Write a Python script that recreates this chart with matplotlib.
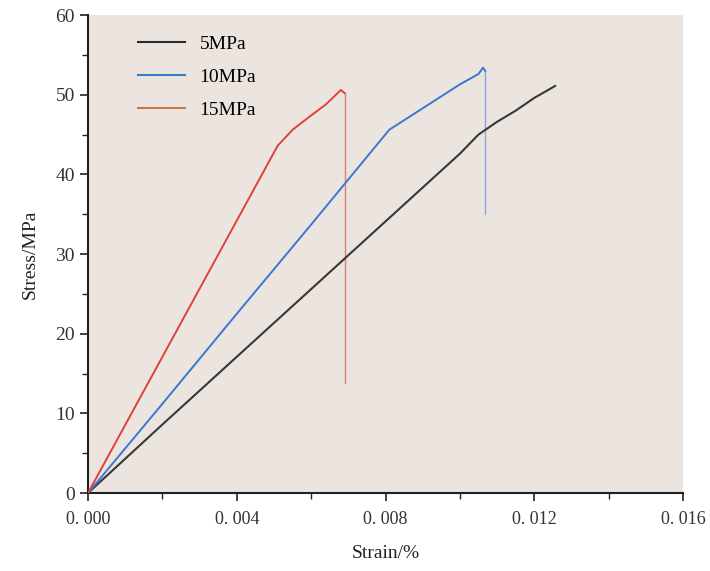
import matplotlib.pyplot as plt
from matplotlib.lines import Line2D
from matplotlib.ticker import MultipleLocator

plt.rcParams["font.family"] = ["Liberation Serif", "DejaVu Serif"]

# Stress-strain curves (strain, stress) read along each test record
LABELS = ["5MPa", "10MPa", "15MPa"]

STRAIN_5 = [0.0, 0.0020, 0.0040, 0.0060, 0.0080, 0.0100, 0.0105, 0.0110, 0.0115, 0.0120, 0.01256]
STRESS_5 = [0.0, 8.6, 17.1, 25.6, 34.1, 42.6, 45.0, 46.6, 48.0, 49.6, 51.1]

STRAIN_10 = [0.0, 0.0020, 0.0040, 0.0060, 0.0081, 0.0090, 0.0100, 0.0105, 0.01062, 0.01068, 0.01068]
STRESS_10 = [0.0, 11.2, 22.5, 33.7, 45.6, 48.3, 51.3, 52.6, 53.4, 53.0, 35.0]

STRAIN_15 = [0.0, 0.0020, 0.0040, 0.0051, 0.0055, 0.0060, 0.0064, 0.0068, 0.00690, 0.00690]
STRESS_15 = [0.0, 17.1, 34.2, 43.6, 45.6, 47.4, 48.8, 50.6, 50.2, 13.8]

X_TICKS = [0.0, 0.004, 0.008, 0.012, 0.016]
X_TICK_LABELS = ["0. 000", "0. 004", "0. 008", "0. 012", "0. 016"]
Y_TICKS = [0, 10, 20, 30, 40, 50, 60]

COLORS = ["#383838", "#3A78D0", "#E0403C"]
DROP_COLORS = ["#383838", "#8AA6D8", "#E07A6E"]
LEGEND_COLORS = ["#2A2A2A", "#3A7CCC", "#C8754E"]

fig = plt.figure(figsize=(7.1, 5.71), dpi=100)
ax = fig.add_axes([0.124, 0.1366, 0.838, 0.837])
ax.set_facecolor("#ECE5DF")

series = [(STRAIN_5, STRESS_5), (STRAIN_10, STRESS_10), (STRAIN_15, STRESS_15)]
for i, (x, y) in enumerate(series):
    if i == 0:
        ax.plot(x, y, color=COLORS[i], lw=1.5, zorder=3)
    else:
        # loading branch, then the post-peak drop drawn thinner
        ax.plot(x[:-1], y[:-1], color=COLORS[i], lw=1.4, zorder=3)
        ax.plot(x[-2:], y[-2:], color=DROP_COLORS[i], lw=1.0, zorder=2)

handles = [Line2D([], [], color=c, lw=1.5) for c in LEGEND_COLORS]
ax.legend(handles, LABELS, loc="upper left", bbox_to_anchor=(0.055, 0.995),
          frameon=False, fontsize=14, handlelength=2.4, handletextpad=0.75,
          labelspacing=0.8)

ax.set_xlim(0, 0.016)
ax.set_ylim(0, 60)
ax.set_xticks(X_TICKS)
ax.set_xticklabels(X_TICK_LABELS)
ax.set_yticks(Y_TICKS)
ax.xaxis.set_minor_locator(MultipleLocator(0.002))
ax.yaxis.set_minor_locator(MultipleLocator(5))
ax.tick_params(which="major", direction="out", length=6, width=1.2,
               labelsize=14, colors="#222222", labelcolor="#333333")
ax.tick_params(axis="x", which="major", pad=7, labelsize=13)
ax.tick_params(which="minor", direction="out", length=4, width=1.0, colors="#222222")

for side in ["top", "right"]:
    ax.spines[side].set_visible(False)
for side in ["left", "bottom"]:
    ax.spines[side].set_linewidth(1.5)
    ax.spines[side].set_color("#222222")

ax.set_xlabel("Strain/%", fontsize=14, color="#222222", labelpad=12)
ax.set_ylabel("Stress/MPa", fontsize=14, color="#222222", labelpad=12)

fig.savefig("out.png", dpi=100, facecolor="white")
